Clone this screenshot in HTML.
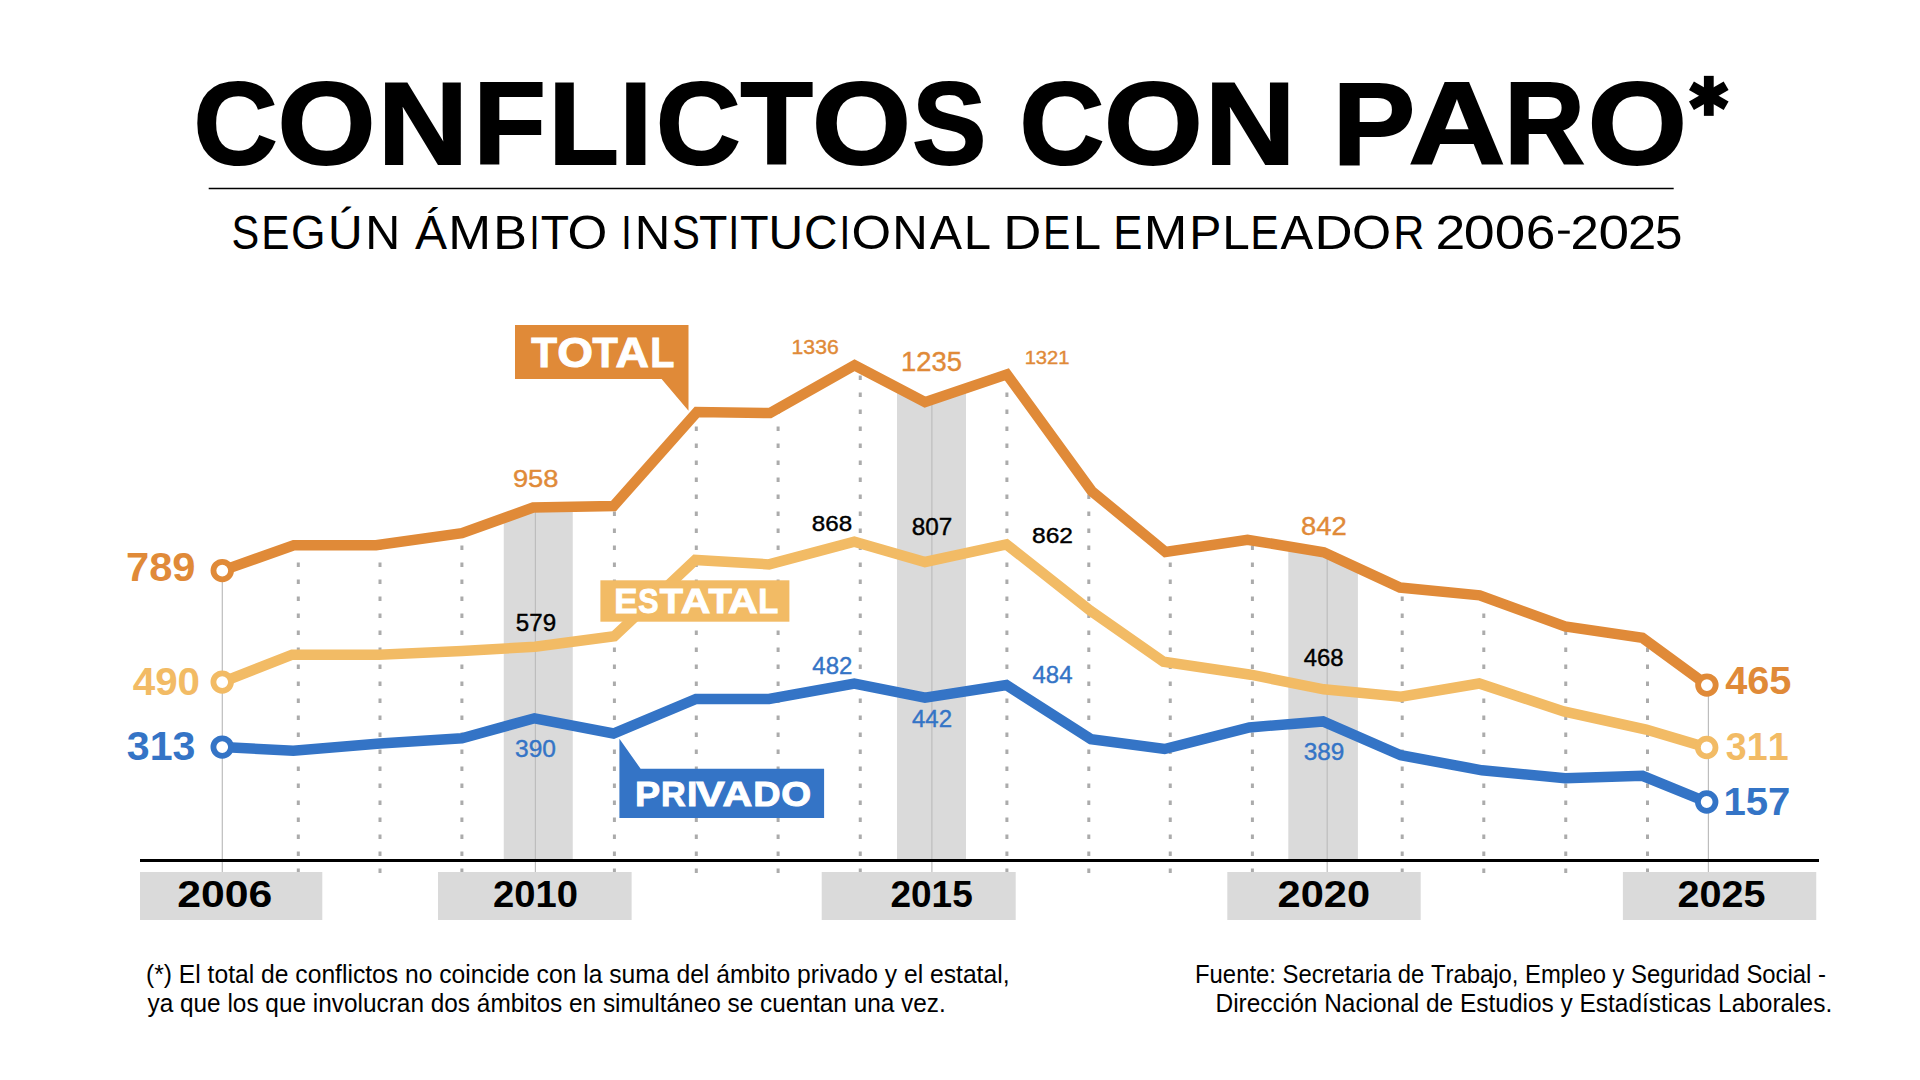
<!DOCTYPE html>
<html><head><meta charset="utf-8"><title>Conflictos con paro</title>
<style>
html,body{margin:0;padding:0;background:#fff;}
body{width:1920px;height:1080px;overflow:hidden;}
svg{display:block;font-family:"Liberation Sans",sans-serif;}
text{font-kerning:none;}
</style></head><body>
<svg width="1920" height="1080" viewBox="0 0 1920 1080">
<rect width="1920" height="1080" fill="#fff"/>
<polygon points="503.75,520.11 533.10,509.60 572.75,508.81 572.75,860.50 503.75,860.50" fill="#DADADA"/>
<polygon points="897.00,389.44 925.00,404.10 966.00,390.23 966.00,860.50 897.00,860.50" fill="#DADADA"/>
<polygon points="1288.30,548.44 1323.75,554.30 1357.90,570.11 1357.90,860.50 1288.30,860.50" fill="#DADADA"/>
<path d="M298.30 873 L298.30 545.30" stroke="#ABABAB" stroke-width="3" stroke-dasharray="4.5 12.5"/>
<path d="M380.00 873 L380.00 544.73" stroke="#ABABAB" stroke-width="3" stroke-dasharray="4.5 12.5"/>
<path d="M461.90 873 L461.90 533.10" stroke="#ABABAB" stroke-width="3" stroke-dasharray="4.5 12.5"/>
<path d="M614.40 873 L614.40 505.10" stroke="#ABABAB" stroke-width="3" stroke-dasharray="4.5 12.5"/>
<path d="M696.30 873 L696.30 412.79" stroke="#ABABAB" stroke-width="3" stroke-dasharray="4.5 12.5"/>
<path d="M778.10 873 L778.10 408.43" stroke="#ABABAB" stroke-width="3" stroke-dasharray="4.5 12.5"/>
<path d="M860.25 873 L860.25 368.21" stroke="#ABABAB" stroke-width="3" stroke-dasharray="4.5 12.5"/>
<path d="M1006.90 873 L1006.90 374.40" stroke="#ABABAB" stroke-width="3" stroke-dasharray="4.5 12.5"/>
<path d="M1088.80 873 L1088.80 486.99" stroke="#ABABAB" stroke-width="3" stroke-dasharray="4.5 12.5"/>
<path d="M1170.25 873 L1170.25 551.29" stroke="#ABABAB" stroke-width="3" stroke-dasharray="4.5 12.5"/>
<path d="M1252.40 873 L1252.40 540.51" stroke="#ABABAB" stroke-width="3" stroke-dasharray="4.5 12.5"/>
<path d="M1402.20 873 L1402.20 587.81" stroke="#ABABAB" stroke-width="3" stroke-dasharray="4.5 12.5"/>
<path d="M1483.80 873 L1483.80 596.80" stroke="#ABABAB" stroke-width="3" stroke-dasharray="4.5 12.5"/>
<path d="M1565.75 873 L1565.75 626.61" stroke="#ABABAB" stroke-width="3" stroke-dasharray="4.5 12.5"/>
<path d="M1647.50 873 L1647.50 641.52" stroke="#ABABAB" stroke-width="3" stroke-dasharray="4.5 12.5"/>
<path d="M222.30 872 L222.30 570.58" stroke="#BDBDBD" stroke-width="1.2"/>
<path d="M535.40 872 L535.40 507.55" stroke="#BDBDBD" stroke-width="1.2"/>
<path d="M931.90 872 L931.90 399.77" stroke="#BDBDBD" stroke-width="1.2"/>
<path d="M1327.20 872 L1327.20 553.90" stroke="#BDBDBD" stroke-width="1.2"/>
<path d="M1708.40 872 L1708.40 685.10" stroke="#BDBDBD" stroke-width="1.2"/>
<rect x="140" y="859" width="1679" height="3" fill="#000"/>
<rect x="140.00" y="872" width="182.30" height="48" fill="#DADADA"/>
<rect x="438.00" y="872" width="193.60" height="48" fill="#DADADA"/>
<rect x="821.70" y="872" width="194.00" height="48" fill="#DADADA"/>
<rect x="1227.30" y="872" width="193.40" height="48" fill="#DADADA"/>
<rect x="1622.90" y="872" width="193.35" height="48" fill="#DADADA"/>
<text transform="translate(177.27 907.14) scale(1.1505 1)" font-size="37.15" font-weight="700" fill="#000">2006</text>
<text transform="translate(492.98 907.14) scale(1.0285 1)" font-size="37.15" font-weight="700" fill="#000">2010</text>
<text transform="translate(890.42 907.14) scale(0.9961 1)" font-size="37.15" font-weight="700" fill="#000">2015</text>
<text transform="translate(1277.56 907.14) scale(1.1187 1)" font-size="37.15" font-weight="700" fill="#000">2020</text>
<text transform="translate(1677.38 907.14) scale(1.0664 1)" font-size="37.15" font-weight="700" fill="#000">2025</text>
<polyline points="222.20,747.10 293.30,750.70 380.00,743.40 461.90,738.20 534.50,718.30 613.50,733.50 696.00,699.00 769.00,699.00 854.30,683.60 925.00,697.60 1006.40,685.00 1091.00,739.20 1164.60,749.00 1249.40,727.40 1323.00,721.40 1400.70,755.20 1482.00,770.30 1565.20,778.30 1642.50,775.80 1706.70,802.00" fill="none" stroke="#3474C6" stroke-width="10.5" stroke-linejoin="miter" stroke-miterlimit="10"/>
<polyline points="222.20,682.10 292.20,654.70 379.00,654.70 462.00,651.00 535.00,646.70 614.30,636.30 695.30,560.00 769.00,564.40 854.30,541.60 925.00,562.00 1006.40,544.30 1090.20,610.60 1163.50,661.70 1250.80,674.70 1323.75,689.30 1401.00,696.70 1479.20,683.50 1563.75,711.40 1646.20,729.50 1706.70,747.50" fill="none" stroke="#F2BB65" stroke-width="10.5" stroke-linejoin="miter" stroke-miterlimit="10"/>
<polyline points="222.25,570.60 293.75,545.30 376.00,545.30 461.90,533.10 533.10,507.60 613.60,506.00 697.00,412.00 770.00,413.00 854.60,365.25 925.00,402.10 1006.90,374.40 1091.90,491.25 1165.50,552.00 1247.50,539.70 1323.75,552.30 1400.00,587.60 1479.70,595.30 1565.00,626.50 1642.30,637.70 1706.90,685.10" fill="none" stroke="#E08A38" stroke-width="10.5" stroke-linejoin="miter" stroke-miterlimit="10"/>
<circle cx="222.20" cy="747.10" r="8.8" fill="#fff" stroke="#3474C6" stroke-width="5.8"/>
<circle cx="1706.70" cy="802.00" r="8.8" fill="#fff" stroke="#3474C6" stroke-width="5.8"/>
<circle cx="222.20" cy="682.10" r="8.8" fill="#fff" stroke="#F2BB65" stroke-width="5.8"/>
<circle cx="1706.70" cy="747.50" r="8.8" fill="#fff" stroke="#F2BB65" stroke-width="5.8"/>
<circle cx="222.25" cy="570.60" r="8.8" fill="#fff" stroke="#E08A38" stroke-width="5.8"/>
<circle cx="1706.90" cy="685.10" r="8.8" fill="#fff" stroke="#E08A38" stroke-width="5.8"/>
<polygon points="515,325 688.5,325 688.5,410.8 661.6,379 515,379" fill="#E08A38"/>
<text transform="translate(531.28 366.60) scale(1.0011 1)" font-size="42.15" font-weight="700" fill="#fff" stroke="#fff" stroke-width="1.00" stroke-linejoin="miter">T</text>
<text transform="translate(557.36 366.60) scale(1.0909 1)" font-size="42.15" font-weight="700" fill="#fff" stroke="#fff" stroke-width="1.00" stroke-linejoin="miter">O</text>
<text transform="translate(592.53 366.60) scale(0.9830 1)" font-size="42.15" font-weight="700" fill="#fff" stroke="#fff" stroke-width="1.00" stroke-linejoin="miter">T</text>
<text transform="translate(615.60 366.60) scale(1.0980 1)" font-size="42.15" font-weight="700" fill="#fff" stroke="#fff" stroke-width="1.00" stroke-linejoin="miter">A</text>
<text transform="translate(650.36 366.60) scale(0.9361 1)" font-size="42.15" font-weight="700" fill="#fff" stroke="#fff" stroke-width="1.00" stroke-linejoin="miter">L</text>
<rect x="600.4" y="580.3" width="189" height="41.4" fill="#F2BB65"/>
<text transform="translate(614.26 613.40) scale(0.9891 1)" font-size="35.32" font-weight="700" fill="#fff" stroke="#fff" stroke-width="1.00" stroke-linejoin="miter">E</text>
<text transform="translate(638.22 613.40) scale(0.8601 1)" font-size="35.32" font-weight="700" fill="#fff" stroke="#fff" stroke-width="1.00" stroke-linejoin="miter">S</text>
<text transform="translate(659.77 613.40) scale(1.0770 1)" font-size="35.32" font-weight="700" fill="#fff" stroke="#fff" stroke-width="1.00" stroke-linejoin="miter">T</text>
<text transform="translate(680.73 613.40) scale(1.1626 1)" font-size="35.32" font-weight="700" fill="#fff" stroke="#fff" stroke-width="1.00" stroke-linejoin="miter">A</text>
<text transform="translate(708.47 613.40) scale(1.0818 1)" font-size="35.32" font-weight="700" fill="#fff" stroke="#fff" stroke-width="1.00" stroke-linejoin="miter">T</text>
<text transform="translate(728.08 613.40) scale(1.1647 1)" font-size="35.32" font-weight="700" fill="#fff" stroke="#fff" stroke-width="1.00" stroke-linejoin="miter">A</text>
<text transform="translate(758.31 613.40) scale(0.9269 1)" font-size="35.32" font-weight="700" fill="#fff" stroke="#fff" stroke-width="1.00" stroke-linejoin="miter">L</text>
<polygon points="619.4,738.75 640.6,768.75 824.1,768.75 824.1,818.1 619.4,818.1" fill="#3474C6"/>
<text transform="translate(634.88 805.70) scale(1.0484 1)" font-size="35.90" font-weight="700" fill="#fff" stroke="#fff" stroke-width="1.00" stroke-linejoin="miter">P</text>
<text transform="translate(660.91 805.70) scale(0.9522 1)" font-size="35.90" font-weight="700" fill="#fff" stroke="#fff" stroke-width="1.00" stroke-linejoin="miter">R</text>
<text transform="translate(686.89 805.70) scale(1.0442 1)" font-size="35.90" font-weight="700" fill="#fff" stroke="#fff" stroke-width="1.00" stroke-linejoin="miter">I</text>
<text transform="translate(696.00 805.70) scale(1.2023 1)" font-size="35.90" font-weight="700" fill="#fff" stroke="#fff" stroke-width="1.00" stroke-linejoin="miter">V</text>
<text transform="translate(722.47 805.70) scale(1.1500 1)" font-size="35.90" font-weight="700" fill="#fff" stroke="#fff" stroke-width="1.00" stroke-linejoin="miter">A</text>
<text transform="translate(753.17 805.70) scale(1.0537 1)" font-size="35.90" font-weight="700" fill="#fff" stroke="#fff" stroke-width="1.00" stroke-linejoin="miter">D</text>
<text transform="translate(781.32 805.70) scale(1.0703 1)" font-size="35.90" font-weight="700" fill="#fff" stroke="#fff" stroke-width="1.00" stroke-linejoin="miter">O</text>
<text transform="translate(512.92 487.06) scale(1.1308 1)" font-size="24.15" font-weight="400" fill="#E08A38" stroke="#E08A38" stroke-width="0.40" stroke-linejoin="miter">958</text>
<text transform="translate(791.59 354.00) scale(1.0277 1)" font-size="20.62" font-weight="400" fill="#E08A38" stroke="#E08A38" stroke-width="0.40" stroke-linejoin="miter">1336</text>
<text transform="translate(901.12 370.79) scale(1.0216 1)" font-size="26.77" font-weight="400" fill="#E08A38" stroke="#E08A38" stroke-width="0.40" stroke-linejoin="miter">1235</text>
<text transform="translate(1024.66 364.37) scale(1.0697 1)" font-size="18.86" font-weight="400" fill="#E08A38" stroke="#E08A38" stroke-width="0.40" stroke-linejoin="miter">1321</text>
<text transform="translate(1301.01 534.79) scale(1.0443 1)" font-size="26.27" font-weight="400" fill="#E08A38" stroke="#E08A38" stroke-width="0.40" stroke-linejoin="miter">842</text>
<text transform="translate(515.83 630.97) scale(1.0431 1)" font-size="23.16" font-weight="400" fill="#000" stroke="#000" stroke-width="0.40" stroke-linejoin="miter">579</text>
<text transform="translate(811.85 530.98) scale(1.0921 1)" font-size="22.17" font-weight="400" fill="#000" stroke="#000" stroke-width="0.40" stroke-linejoin="miter">868</text>
<text transform="translate(911.74 535.28) scale(1.0565 1)" font-size="23.02" font-weight="400" fill="#000" stroke="#000" stroke-width="0.40" stroke-linejoin="miter">807</text>
<text transform="translate(1032.03 543.38) scale(1.0943 1)" font-size="22.46" font-weight="400" fill="#000" stroke="#000" stroke-width="0.40" stroke-linejoin="miter">862</text>
<text transform="translate(1303.65 666.26) scale(0.9898 1)" font-size="24.15" font-weight="400" fill="#000" stroke="#000" stroke-width="0.40" stroke-linejoin="miter">468</text>
<text transform="translate(515.07 757.47) scale(1.0580 1)" font-size="23.16" font-weight="400" fill="#3474C6" stroke="#3474C6" stroke-width="0.40" stroke-linejoin="miter">390</text>
<text transform="translate(812.35 674.17) scale(1.0179 1)" font-size="23.59" font-weight="400" fill="#3474C6" stroke="#3474C6" stroke-width="0.40" stroke-linejoin="miter">482</text>
<text transform="translate(911.95 727.30) scale(1.0039 1)" font-size="23.92" font-weight="400" fill="#3474C6" stroke="#3474C6" stroke-width="0.40" stroke-linejoin="miter">442</text>
<text transform="translate(1032.55 683.07) scale(1.0337 1)" font-size="23.16" font-weight="400" fill="#3474C6" stroke="#3474C6" stroke-width="0.40" stroke-linejoin="miter">484</text>
<text transform="translate(1303.67 760.37) scale(1.0436 1)" font-size="23.30" font-weight="400" fill="#3474C6" stroke="#3474C6" stroke-width="0.40" stroke-linejoin="miter">389</text>
<text transform="translate(126.01 580.70) scale(1.0210 1)" font-size="40.82" font-weight="700" fill="#E08A38">789</text>
<text transform="translate(132.69 695.22) scale(1.0510 1)" font-size="38.42" font-weight="700" fill="#F2BB65">490</text>
<text transform="translate(126.86 759.95) scale(1.0349 1)" font-size="39.75" font-weight="700" fill="#3474C6">313</text>
<text transform="translate(1725.20 694.31) scale(1.0034 1)" font-size="39.55" font-weight="700" fill="#E08A38">465</text>
<text transform="translate(1725.84 759.57) scale(0.9803 1)" font-size="38.34" font-weight="700" fill="#F2BB65">311</text>
<text transform="translate(1723.47 814.62) scale(1.0188 1)" font-size="39.41" font-weight="700" fill="#3474C6">157</text>
<text transform="translate(193.53 163.60) scale(0.9923 1)" font-size="117.30" font-weight="700" fill="#000" stroke="#000" stroke-width="2.00" stroke-linejoin="miter">C</text>
<text transform="translate(277.53 163.60) scale(1.0742 1)" font-size="117.30" font-weight="700" fill="#000" stroke="#000" stroke-width="2.00" stroke-linejoin="miter">O</text>
<text transform="translate(377.83 163.60) scale(1.0673 1)" font-size="117.30" font-weight="700" fill="#000" stroke="#000" stroke-width="2.00" stroke-linejoin="miter">N</text>
<text transform="translate(473.25 163.60) scale(1.0133 1)" font-size="117.30" font-weight="700" fill="#000" stroke="#000" stroke-width="2.00" stroke-linejoin="miter">F</text>
<text transform="translate(548.40 163.60) scale(0.9818 1)" font-size="117.30" font-weight="700" fill="#000" stroke="#000" stroke-width="2.00" stroke-linejoin="miter">L</text>
<text transform="translate(619.29 163.60) scale(1.0150 1)" font-size="117.30" font-weight="700" fill="#000" stroke="#000" stroke-width="2.00" stroke-linejoin="miter">I</text>
<text transform="translate(655.99 163.60) scale(0.9988 1)" font-size="117.30" font-weight="700" fill="#000" stroke="#000" stroke-width="2.00" stroke-linejoin="miter">C</text>
<text transform="translate(740.47 163.60) scale(1.0105 1)" font-size="117.30" font-weight="700" fill="#000" stroke="#000" stroke-width="2.00" stroke-linejoin="miter">T</text>
<text transform="translate(811.98 163.60) scale(1.0846 1)" font-size="117.30" font-weight="700" fill="#000" stroke="#000" stroke-width="2.00" stroke-linejoin="miter">O</text>
<text transform="translate(912.30 163.60) scale(0.9463 1)" font-size="117.30" font-weight="700" fill="#000" stroke="#000" stroke-width="2.00" stroke-linejoin="miter">S</text>
<text transform="translate(1019.58 163.60) scale(1.0014 1)" font-size="117.30" font-weight="700" fill="#000" stroke="#000" stroke-width="2.00" stroke-linejoin="miter">C</text>
<text transform="translate(1104.09 163.60) scale(1.0822 1)" font-size="117.30" font-weight="700" fill="#000" stroke="#000" stroke-width="2.00" stroke-linejoin="miter">O</text>
<text transform="translate(1204.78 163.60) scale(1.0731 1)" font-size="117.30" font-weight="700" fill="#000" stroke="#000" stroke-width="2.00" stroke-linejoin="miter">N</text>
<text transform="translate(1332.40 163.60) scale(1.0575 1)" font-size="117.30" font-weight="700" fill="#000" stroke="#000" stroke-width="2.00" stroke-linejoin="miter">P</text>
<text transform="translate(1408.46 163.60) scale(1.1424 1)" font-size="117.30" font-weight="700" fill="#000" stroke="#000" stroke-width="2.00" stroke-linejoin="miter">A</text>
<text transform="translate(1504.28 163.60) scale(0.9516 1)" font-size="117.30" font-weight="700" fill="#000" stroke="#000" stroke-width="2.00" stroke-linejoin="miter">R</text>
<text transform="translate(1587.67 163.60) scale(1.0871 1)" font-size="117.30" font-weight="700" fill="#000" stroke="#000" stroke-width="2.00" stroke-linejoin="miter">O</text>
<g transform="translate(1708.8 95.85)" fill="#000"><rect x="-4.9" y="-20" width="9.8" height="40"/><rect x="-4.9" y="-20" width="9.8" height="40" transform="rotate(60)"/><rect x="-4.9" y="-20" width="9.8" height="40" transform="rotate(-60)"/></g>
<rect x="208.7" y="187.75" width="1465" height="1.5" fill="#000"/>
<text transform="translate(231.41 248.50) scale(0.8721 1)" font-size="47.60" font-weight="400" fill="#000">S</text>
<text transform="translate(261.23 248.50) scale(0.8895 1)" font-size="47.60" font-weight="400" fill="#000">E</text>
<text transform="translate(291.07 248.50) scale(0.9332 1)" font-size="47.60" font-weight="400" fill="#000">G</text>
<text transform="translate(328.00 248.5) scale(1.0062 1)" font-size="47.60" font-weight="400" fill="#000">Ú</text>
<text transform="translate(365.23 248.50) scale(1.0173 1)" font-size="47.60" font-weight="400" fill="#000">N</text>
<text transform="translate(414.91 248.5) scale(1.0106 1)" font-size="47.60" font-weight="400" fill="#000">Á</text>
<text transform="translate(448.28 248.50) scale(1.0803 1)" font-size="47.60" font-weight="400" fill="#000">M</text>
<text transform="translate(493.35 248.50) scale(1.0618 1)" font-size="47.60" font-weight="400" fill="#000">B</text>
<text transform="translate(529.59 248.50) scale(0.7546 1)" font-size="47.60" font-weight="400" fill="#000">I</text>
<text transform="translate(540.86 248.50) scale(0.9734 1)" font-size="47.60" font-weight="400" fill="#000">T</text>
<text transform="translate(567.57 248.50) scale(1.0771 1)" font-size="47.60" font-weight="400" fill="#000">O</text>
<text transform="translate(621.14 248.50) scale(0.7884 1)" font-size="47.60" font-weight="400" fill="#000">I</text>
<text transform="translate(634.71 248.50) scale(1.0342 1)" font-size="47.60" font-weight="400" fill="#000">N</text>
<text transform="translate(672.10 248.50) scale(0.8794 1)" font-size="47.60" font-weight="400" fill="#000">S</text>
<text transform="translate(698.96 248.50) scale(0.9753 1)" font-size="47.60" font-weight="400" fill="#000">T</text>
<text transform="translate(728.24 248.50) scale(0.8334 1)" font-size="47.60" font-weight="400" fill="#000">I</text>
<text transform="translate(739.95 248.50) scale(0.9845 1)" font-size="47.60" font-weight="400" fill="#000">T</text>
<text transform="translate(768.56 248.50) scale(1.0044 1)" font-size="47.60" font-weight="400" fill="#000">U</text>
<text transform="translate(803.90 248.50) scale(0.9736 1)" font-size="47.60" font-weight="400" fill="#000">C</text>
<text transform="translate(839.44 248.50) scale(0.8109 1)" font-size="47.60" font-weight="400" fill="#000">I</text>
<text transform="translate(851.59 248.50) scale(1.0694 1)" font-size="47.60" font-weight="400" fill="#000">O</text>
<text transform="translate(892.21 248.50) scale(1.0342 1)" font-size="47.60" font-weight="400" fill="#000">N</text>
<text transform="translate(929.66 248.50) scale(1.0185 1)" font-size="47.60" font-weight="400" fill="#000">A</text>
<text transform="translate(963.72 248.50) scale(1.0315 1)" font-size="47.60" font-weight="400" fill="#000">L</text>
<text transform="translate(1003.17 248.50) scale(1.1084 1)" font-size="47.60" font-weight="400" fill="#000">D</text>
<text transform="translate(1042.90 248.50) scale(0.8585 1)" font-size="47.60" font-weight="400" fill="#000">E</text>
<text transform="translate(1072.71 248.50) scale(1.0720 1)" font-size="47.60" font-weight="400" fill="#000">L</text>
<text transform="translate(1113.31 248.50) scale(0.9186 1)" font-size="47.60" font-weight="400" fill="#000">E</text>
<text transform="translate(1143.81 248.50) scale(1.0991 1)" font-size="47.60" font-weight="400" fill="#000">M</text>
<text transform="translate(1189.15 248.50) scale(1.0124 1)" font-size="47.60" font-weight="400" fill="#000">P</text>
<text transform="translate(1222.18 248.50) scale(1.0410 1)" font-size="47.60" font-weight="400" fill="#000">L</text>
<text transform="translate(1250.25 248.50) scale(0.8973 1)" font-size="47.60" font-weight="400" fill="#000">E</text>
<text transform="translate(1280.50 248.50) scale(1.0296 1)" font-size="47.60" font-weight="400" fill="#000">A</text>
<text transform="translate(1314.42 248.50) scale(1.1084 1)" font-size="47.60" font-weight="400" fill="#000">D</text>
<text transform="translate(1352.02 248.50) scale(1.0571 1)" font-size="47.60" font-weight="400" fill="#000">O</text>
<text transform="translate(1393.36 248.50) scale(0.9057 1)" font-size="47.60" font-weight="400" fill="#000">R</text>
<text transform="translate(1435.41 248.50) scale(1.1251 1)" font-size="47.60" font-weight="400" fill="#000">2</text>
<text transform="translate(1463.73 248.50) scale(1.1690 1)" font-size="47.60" font-weight="400" fill="#000">0</text>
<text transform="translate(1494.76 248.50) scale(1.1514 1)" font-size="47.60" font-weight="400" fill="#000">0</text>
<text transform="translate(1525.79 248.50) scale(1.1200 1)" font-size="47.60" font-weight="400" fill="#000">6</text>
<text transform="translate(1570.54 248.50) scale(1.0675 1)" font-size="47.60" font-weight="400" fill="#000">2</text>
<text transform="translate(1598.45 248.50) scale(1.1558 1)" font-size="47.60" font-weight="400" fill="#000">0</text>
<text transform="translate(1628.04 248.50) scale(1.0675 1)" font-size="47.60" font-weight="400" fill="#000">2</text>
<text transform="translate(1654.93 248.50) scale(1.0346 1)" font-size="47.60" font-weight="400" fill="#000">5</text>
<rect x="1558.1" y="230.6" width="11.65" height="3.1" fill="#000"/>
<text transform="translate(145.97 982.70) scale(0.9866 1)" font-size="25.00" font-weight="400" fill="#000">(*) El total de conflictos no coincide con la suma del ámbito privado y el estatal,</text>
<text transform="translate(147.44 1012.10) scale(0.9758 1)" font-size="25.00" font-weight="400" fill="#000">ya que los que involucran dos ámbitos en simultáneo se cuentan una vez.</text>
<text transform="translate(1195.04 982.70) scale(0.9544 1)" font-size="25.00" font-weight="400" fill="#000">Fuente: Secretaria de Trabajo, Empleo y Seguridad Social -</text>
<text transform="translate(1215.50 1012.10) scale(0.9776 1)" font-size="25.00" font-weight="400" fill="#000">Dirección Nacional de Estudios y Estadísticas Laborales.</text>
</svg>
</body></html>
